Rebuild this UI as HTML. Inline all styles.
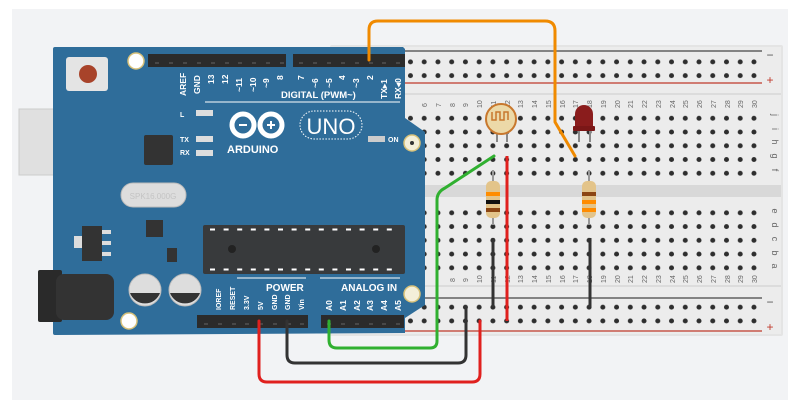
<!DOCTYPE html>
<html><head><meta charset="utf-8"><style>
html,body{margin:0;padding:0;background:#fff;width:800px;height:400px;overflow:hidden}
svg{display:block;font-family:"Liberation Sans",sans-serif}
</style></head><body>
<svg width="800" height="400" viewBox="0 0 800 400">
<defs>
<pattern id="dots" x="348.63" y="0" width="13.74" height="13.75" patternUnits="userSpaceOnUse">
<circle cx="6.87" cy="6.87" r="2.5" fill="#2e2e2e"/>
</pattern>
</defs>
<rect x="12" y="9" width="776" height="391" fill="#f2f3f5"/>
<!-- breadboard -->
<rect x="330" y="45" width="453" height="291" rx="2" fill="#e4e4e4"/>
<rect x="332" y="47" width="449" height="287" fill="#ececec"/>
<rect x="332" y="93" width="449" height="2" fill="#dcdcdc"/>
<rect x="332" y="285" width="449" height="2" fill="#dcdcdc"/>
<rect x="332" y="185" width="449" height="12" fill="#d8d8d8"/>
<line x1="340" y1="51" x2="762" y2="51" stroke="#444" stroke-width="1.2"/>
<line x1="340" y1="83" x2="762" y2="83" stroke="#c0392b" stroke-width="1.2"/>
<line x1="340" y1="298" x2="762" y2="298" stroke="#444" stroke-width="1.2"/>
<line x1="340" y1="331" x2="762" y2="331" stroke="#c0392b" stroke-width="1.2"/>
<rect x="348.6" y="53.1" width="412.2" height="27.5" fill="url(#dots)"/>
<g transform="translate(0,1.4)"><rect x="348.6" y="106.7" width="412.2" height="68.75" fill="url(#dots)"/></g>
<g transform="translate(0,-0.3)"><rect x="348.6" y="204.4" width="412.2" height="68.75" fill="url(#dots)"/></g>
<g transform="translate(0,-2.2)"><rect x="348.6" y="302.5" width="412.2" height="27.5" fill="url(#dots)"/></g>
<g fill="#555" font-size="12" text-anchor="middle">
<text x="770" y="59">−</text><text x="770" y="84" fill="#c0392b">+</text>
<text x="770" y="306">−</text><text x="770" y="331" fill="#c0392b">+</text>
</g>
<g fill="#666" font-size="9" text-anchor="middle">
<text transform="translate(772,115) rotate(90)">j</text>
<text transform="translate(772,129) rotate(90)">i</text>
<text transform="translate(772,142) rotate(90)">h</text>
<text transform="translate(772,156) rotate(90)">g</text>
<text transform="translate(772,170) rotate(90)">f</text>
<text transform="translate(772,211) rotate(90)">e</text>
<text transform="translate(772,225) rotate(90)">d</text>
<text transform="translate(772,239) rotate(90)">c</text>
<text transform="translate(772,253) rotate(90)">b</text>
<text transform="translate(772,266) rotate(90)">a</text>
</g>
<g fill="#666" font-size="7">
<text transform="translate(427,107) rotate(-90)">6</text><text transform="translate(441,107) rotate(-90)">7</text><text transform="translate(455,107) rotate(-90)">8</text><text transform="translate(468,107) rotate(-90)">9</text><text transform="translate(482,108) rotate(-90)">10</text><text transform="translate(496,108) rotate(-90)">11</text><text transform="translate(510,108) rotate(-90)">12</text><text transform="translate(523,108) rotate(-90)">13</text><text transform="translate(537,108) rotate(-90)">14</text><text transform="translate(551,108) rotate(-90)">15</text><text transform="translate(565,108) rotate(-90)">16</text><text transform="translate(578,108) rotate(-90)">17</text><text transform="translate(592,108) rotate(-90)">18</text><text transform="translate(606,108) rotate(-90)">19</text><text transform="translate(620,108) rotate(-90)">20</text><text transform="translate(633,108) rotate(-90)">21</text><text transform="translate(647,108) rotate(-90)">22</text><text transform="translate(661,108) rotate(-90)">23</text><text transform="translate(675,108) rotate(-90)">24</text><text transform="translate(688,108) rotate(-90)">25</text><text transform="translate(702,108) rotate(-90)">26</text><text transform="translate(716,108) rotate(-90)">27</text><text transform="translate(730,108) rotate(-90)">28</text><text transform="translate(743,108) rotate(-90)">29</text><text transform="translate(757,108) rotate(-90)">30</text>
<text transform="translate(455,282) rotate(-90)">8</text><text transform="translate(468,282) rotate(-90)">9</text><text transform="translate(482,283) rotate(-90)">10</text><text transform="translate(496,283) rotate(-90)">11</text><text transform="translate(510,283) rotate(-90)">12</text><text transform="translate(523,283) rotate(-90)">13</text><text transform="translate(537,283) rotate(-90)">14</text><text transform="translate(551,283) rotate(-90)">15</text><text transform="translate(565,283) rotate(-90)">16</text><text transform="translate(578,283) rotate(-90)">17</text><text transform="translate(592,283) rotate(-90)">18</text><text transform="translate(606,283) rotate(-90)">19</text><text transform="translate(620,283) rotate(-90)">20</text><text transform="translate(633,283) rotate(-90)">21</text><text transform="translate(647,283) rotate(-90)">22</text><text transform="translate(661,283) rotate(-90)">23</text><text transform="translate(675,283) rotate(-90)">24</text><text transform="translate(688,283) rotate(-90)">25</text><text transform="translate(702,283) rotate(-90)">26</text><text transform="translate(716,283) rotate(-90)">27</text><text transform="translate(730,283) rotate(-90)">28</text><text transform="translate(743,283) rotate(-90)">29</text><text transform="translate(757,283) rotate(-90)">30</text>
</g>

<!-- Arduino -->
<rect x="19" y="109" width="90" height="66" fill="#e0e0e0" stroke="#ccc"/>
<rect x="64" y="100" width="16" height="10" rx="5" fill="#e8e8e8"/>
<rect x="64" y="172" width="16" height="10" rx="5" fill="#e8e8e8"/>
<path d="M53,49 Q53,47 55,47 L403,47 L405,49 L405,118 L425,132 L425,305 L405,318 L405,333 L55,335 Q53,335 53,333 Z" fill="#2f6d9a"/>
<rect x="38" y="270" width="24" height="52" rx="2" fill="#2a2a2a"/>
<rect x="56" y="274" width="58" height="46" rx="8" fill="#333"/>
<rect x="66" y="57" width="42" height="34" rx="3" fill="#e4e4e4"/>
<circle cx="88" cy="74" r="9" fill="#a8432a"/>
<circle cx="136" cy="61" r="8" fill="#fff" stroke="#d8c27a" stroke-width="1.5"/>
<circle cx="129" cy="321" r="8" fill="#fff" stroke="#d8c27a" stroke-width="1.5"/>
<circle cx="412" cy="143" r="8" fill="#f4efd9" stroke="#d8c27a" stroke-width="1.5"/><circle cx="412" cy="143" r="2" fill="#333"/>
<circle cx="412" cy="294" r="8" fill="#f4efd9" stroke="#d8c27a" stroke-width="1.5"/>
<!-- headers -->
<rect x="148" y="54" width="138" height="13" fill="#2b2b2b"/>
<rect x="293" y="54" width="112" height="13" fill="#2b2b2b"/>
<rect x="197" y="315" width="111" height="13" fill="#2b2b2b"/>
<rect x="321" y="315" width="83" height="13" fill="#2b2b2b"/>
<g stroke="#666" stroke-width="1">
<path d="M155,63h4M169,63h4M183,63h4M197,63h4M211,63h4M225,63h4M238,63h4M252,63h4M266,63h4M280,63h4M299,63h4M313,63h4M327,63h4M341,63h4M355,63h4M369,63h4M382,63h4M396,63h4M204,324h4M218,324h4M232,324h4M245,324h4M259,324h4M273,324h4M287,324h4M300,324h4M327,324h4M341,324h4M355,324h4M369,324h4M382,324h4M396,324h4"/>
</g>
<g fill="#fff" font-size="8.5" font-weight="bold">
<text transform="translate(186,96) rotate(-90)">AREF</text><text transform="translate(200,94) rotate(-90)">GND</text>
<text transform="translate(214,84) rotate(-90)">13</text><text transform="translate(228,84) rotate(-90)">12</text>
<text transform="translate(242,92) rotate(-90)">~11</text><text transform="translate(256,92) rotate(-90)">~10</text>
<text transform="translate(269,88) rotate(-90)">~9</text><text transform="translate(283,80) rotate(-90)">8</text>
<text transform="translate(304,80) rotate(-90)">7</text><text transform="translate(318,88) rotate(-90)">~6</text>
<text transform="translate(332,88) rotate(-90)">~5</text><text transform="translate(345,80) rotate(-90)">4</text>
<text transform="translate(359,88) rotate(-90)">~3</text><text transform="translate(373,80) rotate(-90)">2</text>
<text transform="translate(387,99) rotate(-90)">TX▸1</text><text transform="translate(401,99) rotate(-90)">RX◂0</text>
<text x="281" y="98" font-size="9.5">DIGITAL (PWM~)</text>
<text x="266" y="291" font-size="10">POWER</text><text x="341" y="291" font-size="10">ANALOG IN</text>
<text transform="translate(221,310) rotate(-90)" font-size="7">IOREF</text><text transform="translate(235,310) rotate(-90)" font-size="7">RESET</text>
<text transform="translate(249,310) rotate(-90)" font-size="7">3.3V</text><text transform="translate(263,310) rotate(-90)" font-size="7">5V</text>
<text transform="translate(277,310) rotate(-90)" font-size="7">GND</text><text transform="translate(290,310) rotate(-90)" font-size="7">GND</text>
<text transform="translate(304,310) rotate(-90)" font-size="7">Vin</text>
<text transform="translate(332,311) rotate(-90)">A0</text><text transform="translate(346,311) rotate(-90)">A1</text><text transform="translate(360,311) rotate(-90)">A2</text><text transform="translate(373,311) rotate(-90)">A3</text><text transform="translate(387,311) rotate(-90)">A4</text><text transform="translate(401,311) rotate(-90)">A5</text>
<text x="227" y="153" font-size="11">ARDUINO</text>
<text x="180" y="117" font-size="7">L</text><text x="180" y="142" font-size="7">TX</text><text x="180" y="155" font-size="7">RX</text><text x="388" y="142" font-size="7">ON</text>
</g>
<line x1="205" y1="102" x2="400" y2="102" stroke="#fff" stroke-width="1"/>
<line x1="237" y1="278" x2="306" y2="278" stroke="#fff" stroke-width="1"/>
<line x1="320" y1="278" x2="400" y2="278" stroke="#fff" stroke-width="1"/>
<rect x="196" y="110" width="17" height="6" fill="#ddd"/><rect x="196" y="136" width="17" height="6" fill="#ddd"/><rect x="196" y="150" width="17" height="6" fill="#ddd"/><rect x="368" y="136" width="17" height="6" fill="#ccc"/>
<g fill="none" stroke="#fff" stroke-width="5"><circle cx="243" cy="125" r="11"/><circle cx="271" cy="125" r="11"/></g>
<path d="M239,125h8M267,125h8M271,121v8" stroke="#fff" stroke-width="2"/>
<rect x="300" y="111" width="62" height="28" rx="14" fill="none" stroke="#fff" stroke-dasharray="1.5 1.5"/>
<text x="331" y="134" fill="#fff" font-size="22" text-anchor="middle">UNO</text>
<rect x="144" y="135" width="29" height="30" rx="2" fill="#333"/>
<rect x="121" y="183" width="65" height="24" rx="12" fill="#ddd" stroke="#bbb"/>
<text x="153" y="199" fill="#c4c4c4" font-size="8" text-anchor="middle">SPK16.000G</text>
<rect x="146" y="220" width="17" height="17" fill="#333"/>
<rect x="82" y="226" width="20" height="35" fill="#333"/><rect x="74" y="236" width="8" height="12" fill="#ddd"/>
<rect x="102" y="230" width="9" height="4" fill="#ddd"/><rect x="102" y="241" width="9" height="4" fill="#ddd"/><rect x="102" y="252" width="9" height="4" fill="#ddd"/>
<rect x="167" y="248" width="10" height="14" fill="#333"/>
<circle cx="145" cy="290" r="16" fill="#ddd" stroke="#bbb"/><path d="M130,293 A16,16 0 0,0 160,293 Z" fill="#333"/>
<circle cx="185" cy="290" r="16" fill="#ddd" stroke="#bbb"/><path d="M170,293 A16,16 0 0,0 200,293 Z" fill="#333"/>
<rect x="203" y="225" width="202" height="49" rx="2" fill="#383a3c"/>
<path d="M210,229.5h190M210,269.5h190" stroke="#fff" stroke-width="2" stroke-dasharray="5 8.6"/>
<circle cx="232" cy="249" r="4" fill="#222"/><circle cx="376" cy="249" r="4" fill="#222"/>

<!-- components -->
<path d="M497,128v14M507,128v14M579,128v14M590,128v14" stroke="#888" stroke-width="2"/>
<circle cx="501" cy="119" r="15" fill="#ecd9a8" stroke="#c8782e" stroke-width="2"/>
<path d="M492,112v8h4v-8h4v8h4v-8h4v8" fill="none" stroke="#c8782e" stroke-width="1.5"/>
<path d="M575,130 L575,114 A9,9 0 0,1 593,114 L593,130 Z" fill="#8a1c1c"/>
<rect x="573" y="126" width="22" height="5" rx="1" fill="#7a1717"/>
<path d="M493,170v55M589,170v55" stroke="#999" stroke-width="2"/>
<rect x="486" y="181" width="14" height="37" rx="5" fill="#e3c48a"/>
<rect x="486" y="192" width="14" height="4" fill="#ff8c00"/><rect x="486" y="200" width="14" height="4" fill="#111"/><rect x="486" y="208" width="14" height="4" fill="#8b4513"/>
<rect x="582" y="181" width="14" height="37" rx="5" fill="#e3c48a"/>
<rect x="582" y="192" width="14" height="4" fill="#8b4513"/><rect x="582" y="200" width="14" height="4" fill="#ff8c00"/><rect x="582" y="208" width="14" height="4" fill="#ff8c00"/>
<path d="M493,238v69M590,238v69" stroke="#333" stroke-width="3"/>
<path d="M507,156v165" stroke="#e0201e" stroke-width="3"/>

<!-- wires -->
<g fill="none" stroke-width="3" stroke-linecap="round" stroke-linejoin="round">
<path d="M369,60 V30 Q369,21 378,21 H545 Q555,21 555,31 V122 L575,156" stroke="#f08a00"/>
<path d="M329,321 V340 Q329,348 337,348 H430 Q437,348 437,341 V200 Q437,192 445,188 L494,156" stroke="#30b030"/>
<path d="M287,321 V355 Q287,363 295,363 H458 Q466,363 466,355 V307" stroke="#333"/>
<path d="M259,321 V374 Q259,382 267,382 H472 Q480,382 480,374 V321" stroke="#e0201e"/>
</g>
</svg>
</body></html>
